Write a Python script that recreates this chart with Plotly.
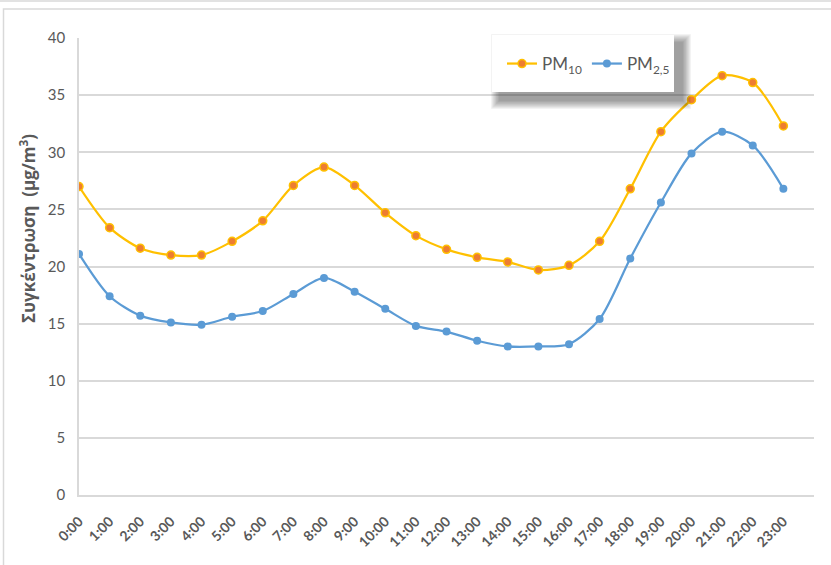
import plotly.graph_objects as go

hours = ["0:00", "1:00", "2:00", "3:00", "4:00", "5:00", "6:00", "7:00", "8:00", "9:00",
         "10:00", "11:00", "12:00", "13:00", "14:00", "15:00", "16:00", "17:00", "18:00",
         "19:00", "20:00", "21:00", "22:00", "23:00"]
pm10 = [27.0, 23.4, 21.6, 21.0, 21.0, 22.2, 24.0, 27.1, 28.7, 27.1, 24.7, 22.7, 21.5,
        20.8, 20.4, 19.7, 20.1, 22.2, 26.8, 31.8, 34.6, 36.7, 36.1, 32.3]
pm25 = [21.1, 17.4, 15.7, 15.1, 14.9, 15.6, 16.1, 17.6, 19.0, 17.8, 16.3, 14.8, 14.3,
        13.5, 13.0, 13.0, 13.2, 15.4, 20.7, 25.6, 29.9, 31.8, 30.6, 26.8]
y_ticks = [0, 5, 10, 15, 20, 25, 30, 35, 40]

xs = list(range(len(hours)))

fig = go.Figure()
fig.add_trace(go.Scatter(
    x=xs, y=pm10, name="PM<sub>10</sub>", mode="lines+markers",
    line=dict(color="#FFC000", width=2.25, shape="spline", smoothing=0.8),
    marker=dict(size=8, color="#ED7D31", line=dict(color="#FFC000", width=1.5)),
))
fig.add_trace(go.Scatter(
    x=xs, y=pm25, name="PM<sub>2,5</sub>", mode="lines+markers",
    line=dict(color="#5B9BD5", width=2.25, shape="spline", smoothing=0.8),
    marker=dict(size=8, color="#5B9BD5"),
))

W, H = 831, 565
L, R, T, B = 79, 17, 38, 70
pw, ph = W - L - R, H - T - B

def px2x(px):
    return (px - L) / pw

def px2y(py):
    return (H - B - py) / ph

shapes = []
# outer frames
shapes.append(dict(type="line", xref="paper", yref="paper", x0=px2x(-5), x1=px2x(840),
                   y0=px2y(1), y1=px2y(1), line=dict(color="#D9D9D9", width=1.5)))
shapes.append(dict(type="rect", xref="paper", yref="paper", x0=px2x(3.5), x1=px2x(850),
                   y0=px2y(9), y1=px2y(600), line=dict(color="#D9D9D9", width=1.5),
                   fillcolor="rgba(0,0,0,0)", layer="below"))
# legend shadow (soft)
bx0, bx1, by0, by1 = 492, 674, 35, 92
n = 14
for i in range(n):
    g = n - i
    shapes.append(dict(type="rect", xref="paper", yref="paper",
                       x0=px2x(bx0 + 8 - g * 0.65), x1=px2x(bx1 + 8 + g * 0.65),
                       y0=px2y(by1 + 8 + g * 0.65), y1=px2y(by0 + 8 - g * 0.65),
                       line=dict(width=0), fillcolor="rgba(40,40,40,0.035)", layer="above"))
shapes.append(dict(type="rect", xref="paper", yref="paper",
                   x0=px2x(bx0), x1=px2x(bx1), y0=px2y(by1), y1=px2y(by0),
                   line=dict(width=0), fillcolor="white", layer="above"))

fig.update_layout(
    width=W, height=H,
    margin=dict(l=L, r=R, t=T, b=B, pad=0, autoexpand=False),
    paper_bgcolor="white", plot_bgcolor="white",
    font=dict(family="Lato, 'Open Sans', sans-serif", color="#595959", size=13),
    shapes=shapes,
    showlegend=True,
    legend=dict(orientation="h", x=px2x(bx0 + 10), y=px2y(64), xanchor="left", yanchor="middle",
                bgcolor="rgba(0,0,0,0)", font=dict(size=17, color="#595959"),
                itemwidth=30, traceorder="normal"),
    xaxis=dict(
        range=[0, 24], tickmode="array", tickvals=xs, ticktext=["<b>%s</b>" % h for h in hours],
        tickangle=-45, showgrid=False, showline=True, linecolor="#D9D9D9", linewidth=1.5,
        ticks="", tickfont=dict(size=14, color="#595959"), zeroline=False,
        automargin=False, ticklabelstandoff=11,
    ),
    yaxis=dict(
        range=[0, 40], tickmode="array", tickvals=y_ticks, showgrid=True, gridcolor="#D9D9D9",
        gridwidth=1.5, showline=True, linecolor="#D9D9D9", linewidth=1.5, ticks="",
        tickfont=dict(size=15, color="#595959"), zeroline=False, ticklabelstandoff=9,
        automargin=False,
    ),
    annotations=[dict(
        text="<b>Συγκέντρωση  (μg/m<sup>3</sup>)</b>", textangle=-90,
        xref="paper", yref="paper", x=px2x(27), y=px2y(229), showarrow=False,
        xanchor="center", yanchor="middle",
        font=dict(size=17, color="#595959", family="'Open Sans', Lato, sans-serif"),
    )],
)

fig.write_html("out.html", config={"displayModeBar": False},
               post_script="document.body.style.margin='0';document.body.style.overflow='hidden';")
